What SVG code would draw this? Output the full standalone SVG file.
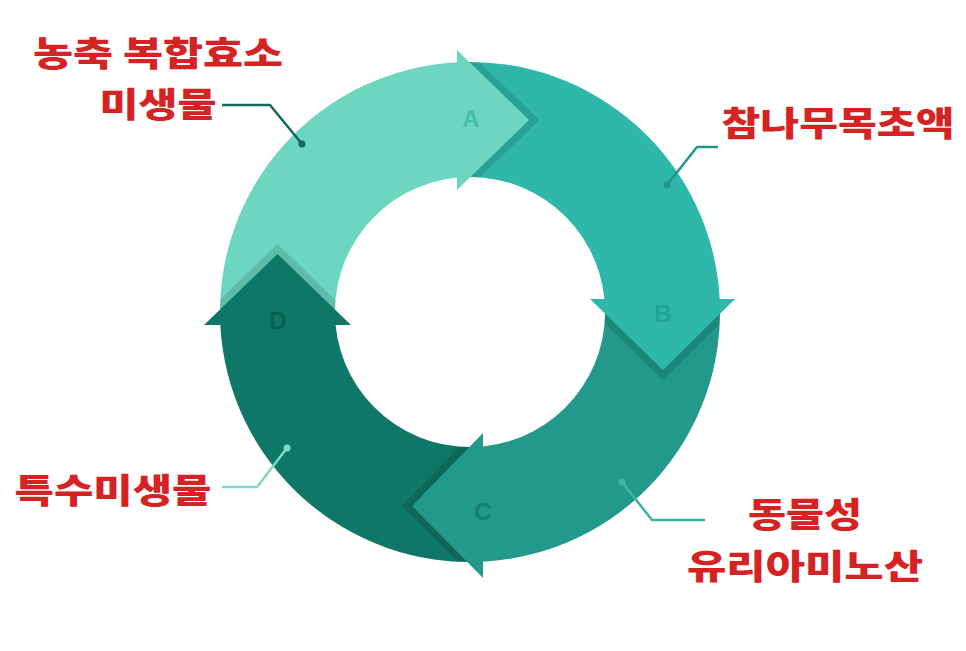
<svg xmlns="http://www.w3.org/2000/svg" width="966" height="651" viewBox="0 0 966 651">
<style>
.lbl{font-family:"Noto Sans CJK KR","Noto Sans",sans-serif;font-weight:900;fill:#d52222;text-anchor:middle;dominant-baseline:central;font-size:34px}
.let{font-family:"Liberation Sans",Arial,sans-serif;font-weight:bold;font-size:24px;text-anchor:middle;dominant-baseline:central}
.shd{fill:#000;opacity:0.12}
.con{fill:none;stroke-width:2.5;stroke-linejoin:round}
</style>
<defs>
<clipPath id="ring">
<path clip-rule="evenodd" d="M220 312 A250 250 0 1 0 720 312 A250 250 0 1 0 220 312 Z M335 312 A135 135 0 1 0 605 312 A135 135 0 1 0 335 312 Z"/>
</clipPath>
</defs>
<rect width="966" height="651" fill="#ffffff"/>
<g id="bodies">
<g id="seg-a-body"><path d="M220.3 325 A250 250 0 0 1 457 62.3 L457 177.6 A135 135 0 0 0 335.6 325 Z" fill="#6dd6c1"/></g>
<g id="seg-b-body"><path d="M457 62.3 A250 250 0 0 1 719.7 299 L604.4 299 A135 135 0 0 0 457 177.6 Z" fill="#2fb8aa"/></g>
<g id="seg-c-body"><path d="M719.7 299 A250 250 0 0 1 483 561.7 L483 446.4 A135 135 0 0 0 604.4 299 Z" fill="#22998b"/></g>
<g id="seg-d-body"><path d="M483 561.7 A250 250 0 0 1 220.3 325 L335.6 325 A135 135 0 0 0 483 446.4 Z" fill="#0f7767"/></g>
</g>
<g id="arrow-a">
<polygon class="shd" clip-path="url(#ring)" points="467,50 539,120 467,190"/>
<polygon points="457,50 529,120 457,190" fill="#6dd6c1"/>
<text class="let" x="471" y="118" fill="#45bda9">A</text>
</g>
<g id="arrow-b">
<polygon class="shd" clip-path="url(#ring)" points="590,309 735,309 663,380"/>
<polygon points="590,299 735,299 663,370" fill="#2fb8aa"/>
<text class="let" x="663" y="313" fill="#22a394">B</text>
</g>
<g id="arrow-c">
<polygon class="shd" clip-path="url(#ring)" points="473,433 473,578 402,506"/>
<polygon points="483,433 483,578 412,506" fill="#22998b"/>
<text class="let" x="483" y="511" fill="#137f70">C</text>
</g>
<g id="arrow-d">
<polygon class="shd" clip-path="url(#ring)" points="204,315 351,315 277.5,244"/>
<polygon points="204,325 351,325 277.5,254" fill="#0f7767"/>
<text class="let" x="278" y="320" fill="#0b5f52">D</text>
</g>
<g id="connectors">
<polyline class="con" points="222,105 270,105 302,144" stroke="#13695d"/>
<circle cx="302" cy="144" r="3.5" fill="#13695d"/>
<polyline class="con" points="718,147 697,147 667,185" stroke="#23968a"/>
<circle cx="667" cy="185" r="3.5" fill="#23968a"/>
<polyline class="con" points="222,487 257,487 287,448" stroke="#7fd9c6"/>
<circle cx="287" cy="448" r="3.5" fill="#7fd9c6"/>
<polyline class="con" points="705,520 652,520 622,482" stroke="#3bb5a5"/>
<circle cx="622" cy="482" r="3.5" fill="#3bb5a5"/>
</g>
<g id="label-1">
<text class="lbl" x="158" y="51" textLength="250" lengthAdjust="spacingAndGlyphs">농축 복합효소</text>
<text class="lbl" x="158" y="102" textLength="117" lengthAdjust="spacingAndGlyphs">미생물</text>
</g>
<g id="label-2">
<text class="lbl" x="838" y="121" textLength="233" lengthAdjust="spacingAndGlyphs">참나무목초액</text>
</g>
<g id="label-3">
<text class="lbl" x="113" y="488" textLength="197" lengthAdjust="spacingAndGlyphs">특수미생물</text>
</g>
<g id="label-4">
<text class="lbl" x="805" y="512" textLength="114" lengthAdjust="spacingAndGlyphs">동물성</text>
<text class="lbl" x="805" y="564" textLength="236" lengthAdjust="spacingAndGlyphs">유리아미노산</text>
</g>
</svg>
